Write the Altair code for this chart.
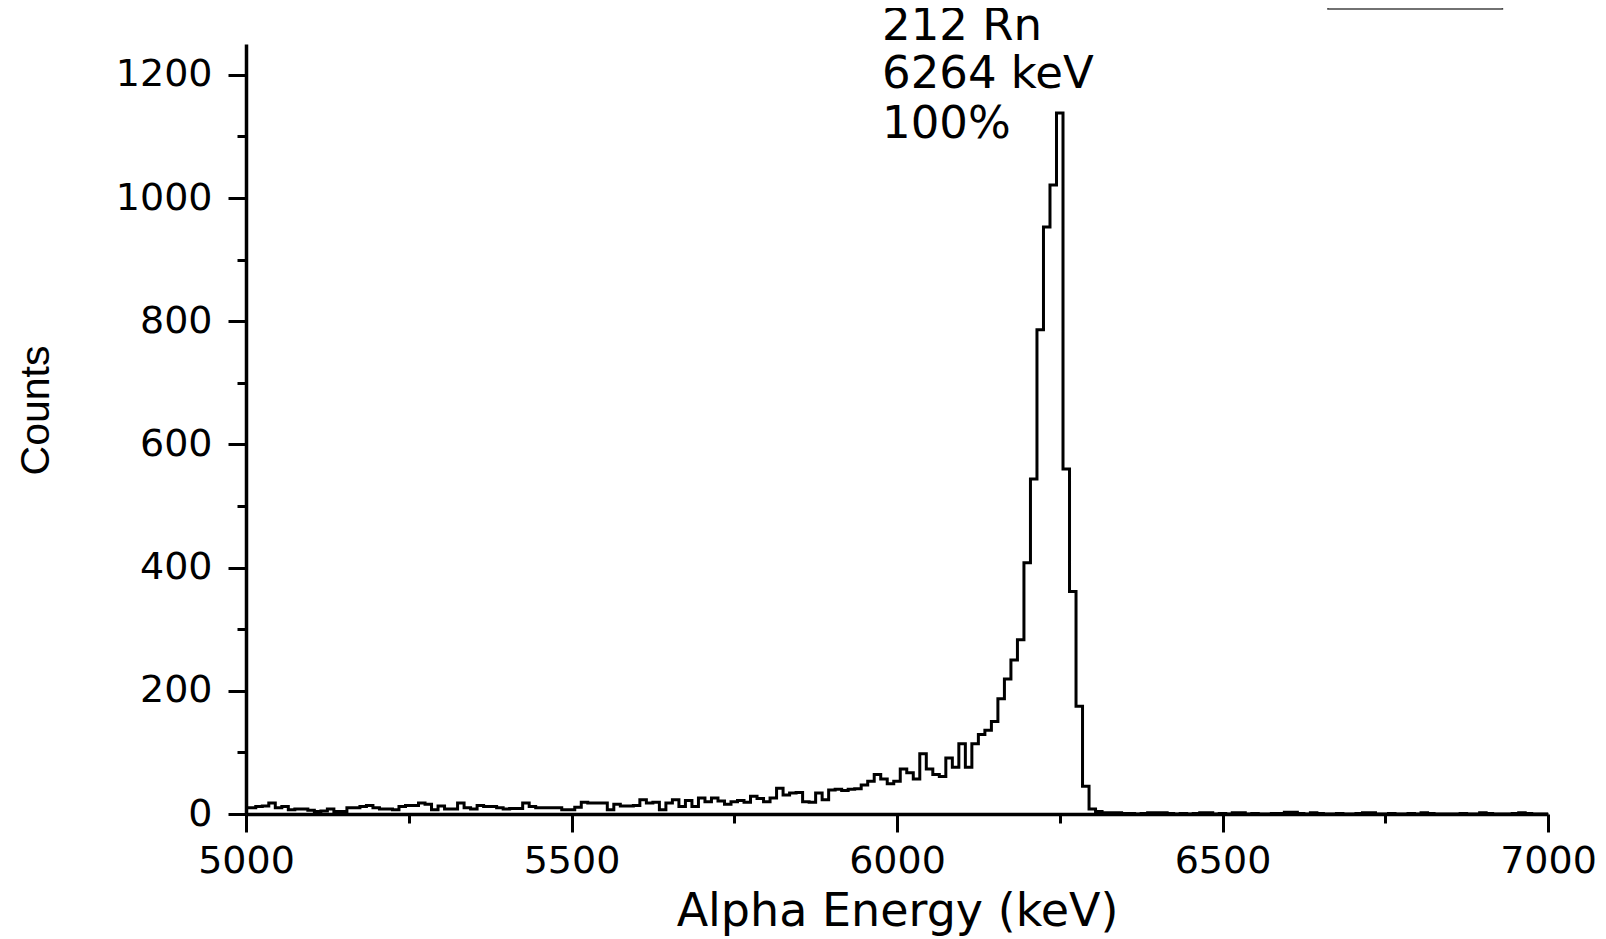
import altair as alt
import pandas as pd

# Histogram bins (bin centres, keV) and counts
energy = list(range(5000, 7001, 10))
counts = [
    10, 10, 12, 13, 18, 10, 12, 7, 8, 8,            # 5000-5090
    6, 4, 5, 8, 4, 4, 10, 10, 12, 14,               # 5100-5190
    10, 8, 8, 7, 12, 14, 14, 18, 16, 7,             # 5200-5290
    13, 8, 8, 18, 10, 8, 14, 12, 12, 10,            # 5300-5390
    8, 9, 9, 18, 12, 10, 10, 10, 10, 7,             # 5400-5490
    7, 11, 19, 18, 18, 18, 7, 16, 13, 13,           # 5500-5590
    14, 23, 18, 19, 7, 18, 23, 12, 22, 12,          # 5600-5690
    26, 20, 26, 21, 16, 20, 22, 19, 29, 25,         # 5700-5790
    20, 26, 42, 31, 34, 35, 20, 19, 34, 23,         # 5800-5890
    39, 40, 38, 40, 41, 47, 53, 64, 57, 49,         # 5900-5990
    53, 73, 67, 57, 98, 73, 64, 61, 91, 76,         # 6000-6090
    114, 76, 114, 129, 136, 150, 187, 219, 250, 283,  # 6100-6190
    408, 544, 786, 953, 1021, 1138, 560, 361, 175, 45,  # 6200-6290
    8, 4, 2, 2, 2, 1, 1, 0, 1, 2,                   # 6300-6390
    2, 2, 1, 0, 1, 0, 1, 2, 2, 0,                   # 6400-6490
    1, 0, 2, 2, 0, 1, 0, 0, 1, 1,                   # 6500-6590
    3, 3, 1, 0, 2, 1, 0, 0, 1, 0,                   # 6600-6690
    0, 1, 2, 2, 0, 0, 1, 0, 0, 1,                   # 6700-6790
    0, 2, 1, 0, 0, 0, 0, 1, 0, 0,                   # 6800-6890
    2, 1, 0, 0, 0, 1, 2, 1, 0, 0,                   # 6900-6990
    0,                                              # 7000
]
assert len(energy) == len(counts)

ann_labels = ["212 Rn", "6264 keV", "100%"]
ann_energy = [5977, 5977, 5977]
ann_counts = [1257, 1178, 1098]

# clipped legend frame (top right), in data units
box_e = [6662]
box_e2 = [6930]
box_c = [1307]
box_c2 = [1420]

hist = pd.DataFrame({"energy": energy, "counts": counts})
ann = pd.DataFrame({"energy": ann_energy, "counts": ann_counts, "label": ann_labels})
box = pd.DataFrame({"energy": box_e, "e2": box_e2, "counts": box_c, "c2": box_c2})

x_scale = alt.Scale(domain=[5000, 7000], nice=False, zero=False)
y_scale = alt.Scale(domain=[0, 1250], nice=False)

x_axis = alt.Axis(
    values=list(range(5000, 7001, 250)),
    format="d",
    labelExpr="datum.value % 500 === 0 ? datum.label : ''",
    tickSize={"condition": {"test": "datum.value % 500 === 0", "value": 18}, "value": 9},
    tickWidth=3,
    tickColor="black",
    domainColor="black",
    domainWidth=3.5,
    labelFont="DejaVu Sans",
    labelFontSize=38,
    labelColor="black",
    labelPadding=10,
    labelFlush=False,
    labelOverlap=False,
    grid=False,
    title="Alpha Energy (keV)",
    titleFont="DejaVu Sans",
    titleFontSize=46,
    titleFontWeight="normal",
    titleColor="black",
    titleX=651,
    titleY=97,
    titleBaseline="middle",
    titleAlign="center",
)

y_axis = alt.Axis(
    values=list(range(0, 1201, 100)),
    format="d",
    labelExpr="datum.value % 200 === 0 ? datum.label : ''",
    tickSize={"condition": {"test": "datum.value % 200 === 0", "value": 18}, "value": 9},
    tickWidth=3,
    tickColor="black",
    domainColor="black",
    domainWidth=3.5,
    labelFont="DejaVu Sans",
    labelFontSize=38,
    labelColor="black",
    labelPadding=16,
    labelFlush=False,
    labelOverlap=False,
    grid=False,
    title="Counts",
    titleFont="Liberation Sans",
    titleFontSize=41,
    titleFontWeight="normal",
    titleColor="black",
    titleAngle=270,
    titleX=-210,
    titleY=366,
    titleBaseline="middle",
    titleAlign="center",
)

X = alt.X("energy:Q", scale=x_scale, axis=x_axis)
Y = alt.Y("counts:Q", scale=y_scale, axis=y_axis)

line = alt.Chart(hist).mark_line(
    interpolate="step", color="black", strokeWidth=3
).encode(x=X, y=Y)

text = alt.Chart(ann).mark_text(
    align="left", baseline="alphabetic", font="DejaVu Sans", fontSize=45, color="black"
).encode(x=X, y=Y, text="label:N")

frame = alt.Chart(box).mark_rect(
    fillOpacity=0, stroke="#444444", strokeWidth=1.5
).encode(x=X, x2="e2:Q", y=Y, y2="c2:Q")

chart = alt.layer(line, text, frame).properties(
    width=1302,
    height=770,
    padding={"left": 238, "top": 36, "right": 50, "bottom": 125},
    autosize=alt.AutoSizeParams(type="none"),
    background="white",
).configure_view(strokeWidth=0)

chart.save("out.html", embed_options={"renderer": "svg", "actions": False})
